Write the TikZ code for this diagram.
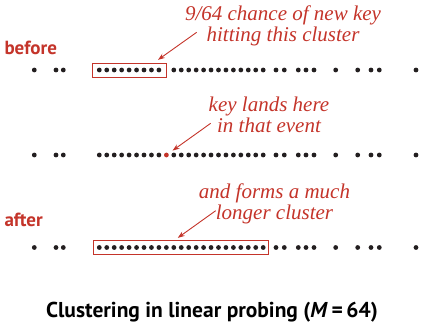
\documentclass[tikz,border=0pt]{standalone}
\usepackage{fontspec}
\setsansfont{PT Sans}
\newfontfamily\notefont{Liberation Serif}
\usetikzlibrary{arrows.meta}
\definecolor{bookred}{RGB}{196,52,42}
\definecolor{dotblack}{RGB}{35,31,32}
\newcommand{\rowname}[1]{\textsf{\bfseries #1}}

\begin{document}
\begin{tikzpicture}[x=1pt,y=-1pt,>={Stealth[length=7pt,width=5pt]},
  note/.style={text=bookred,align=center,anchor=base,font=\notefont\itshape\fontsize{21}{21}\selectfont},
  side/.style={text=bookred,anchor=base west,font=\fontsize{19}{20}\selectfont},
  clusterbox/.style={draw=bookred,line width=0.9pt,minimum height=14pt,inner sep=0pt},
  keydot/.style={circle,fill=bookred,minimum size=4.8pt,inner sep=0pt},
  pin/.style={->,bookred,line width=0.9pt}]
 \useasboundingbox (0,0) rectangle (421,328);
 \node[side] (before) at(1,55){\rowname{before}};
 \node[side] (after) at(1,227){\rowname{after}};
 \foreach \y in {70,155,247.5}
  \foreach \x in {34.3,56,63.3,276,284.3,298.3,306,314,335.7,357.7,371,379.3,416}
   \fill[dotblack] (\x,\y) circle (2.4);
 \foreach \i in {0,...,8,10,11,...,22}
  \fill[dotblack] (99.3+7.45*\i,70) circle (2.4);
 \foreach \i in {0,...,8,10,11,...,22}
  \fill[dotblack] (99.3+7.45*\i,155) circle (2.4);
 \foreach \i in {0,...,22}
  \fill[dotblack] (99.3+7.45*\i,247.5) circle (2.4);
 \node[clusterbox,minimum width=74pt] (box1) at(129,70.3){};
 \node[clusterbox,minimum width=175pt,minimum height=13.6pt] (box3) at(180.8,247.5){};
 \node[keydot] (hit) at(166.4,155){};
 \node[note] (hint) at(283,42){9/64 chance of new key\\hitting this cluster};
 \node[note] (lands) at(269,133){key lands here\\in that event};
 \node[note] (forms) at(274.5,220){and forms a much\\longer cluster};
 \coordinate (a1) at(196.7,32.3);
 \coordinate (a2) at(210.7,123.3);
 \coordinate (a3) at(215.7,210.7);
 \draw[pin] (a1)--([xshift=29pt,yshift=3pt]box1.north);
 \draw[pin,shorten >=5pt] (a2)--(hit);
 \draw[pin] (a3)--([xshift=-3pt,yshift=2.4pt]box3.north);
 \node[anchor=base,font=\sffamily\bfseries\fontsize{21.5}{24}\selectfont] (caption) at(212,318){Clustering in linear probing (\textit{M}\,=\,64)};
\end{tikzpicture}
\end{document}
